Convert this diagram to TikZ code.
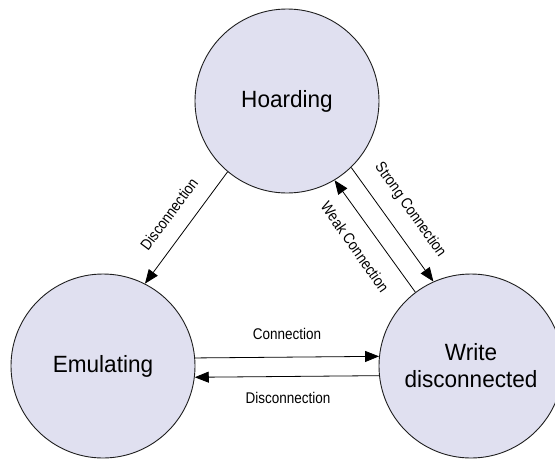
\documentclass[tikz,border=0pt]{standalone}
\usepackage{fontspec}
\setmainfont{Liberation Sans}
\newfontfamily\labelfont[FakeStretch=0.87]{Liberation Sans}
\newfontfamily\statefont[FakeStretch=0.96]{Liberation Sans}
\usetikzlibrary{arrows.meta}
\definecolor{statefill}{RGB}{224,224,240}
\definecolor{stateline}{RGB}{30,30,30}
\begin{document}
\begin{tikzpicture}[x=1pt,y=-1pt,
  state/.style={circle, draw=stateline, line width=0.9pt, fill=statefill,
    minimum size=184pt, inner sep=0pt, align=center,
    font=\statefont\fontsize{23.5}{27}\selectfont},
  trans/.style={draw=black, line width=0.8pt,
    -{Triangle[length=14pt,width=11pt]}},
  lbl/.style={font=\labelfont\fontsize{15.5}{17}\selectfont, inner sep=0pt}]
  \useasboundingbox (0,0) rectangle (555,459);

  % states
  \node[state] (hoard) at (287,101) {Hoarding};
  \node[state] (emul)  at (103,366) {Emulating};
  \node[state] (write) at (471,366) {Write\\disconnected};

  % transitions
  \draw[trans] (hoard.230.2) -- (emul.63.4);
  \draw[trans] (hoard.314) -- (write.114.3);
  \draw[trans] (write.127.5) -- (hoard.301.6);
  \draw[trans] (emul.5.6) -- (write.174.4);
  \draw[trans] (write.186.9) -- (emul.353.1);

  % transition labels
  \node[lbl, rotate=53.3]  (lDisc1)  at (169,214) {Disconnection};
  \node[lbl, rotate=-54.8] (lStrong) at (410,210) {Strong Connection};
  \node[lbl, rotate=-55]   (lWeak)   at (355,247) {Weak Connection};
  \node[lbl] (lConn)  at (287,334) {Connection};
  \node[lbl] (lDisc2) at (288,398) {Disconnection};
\end{tikzpicture}
\end{document}
